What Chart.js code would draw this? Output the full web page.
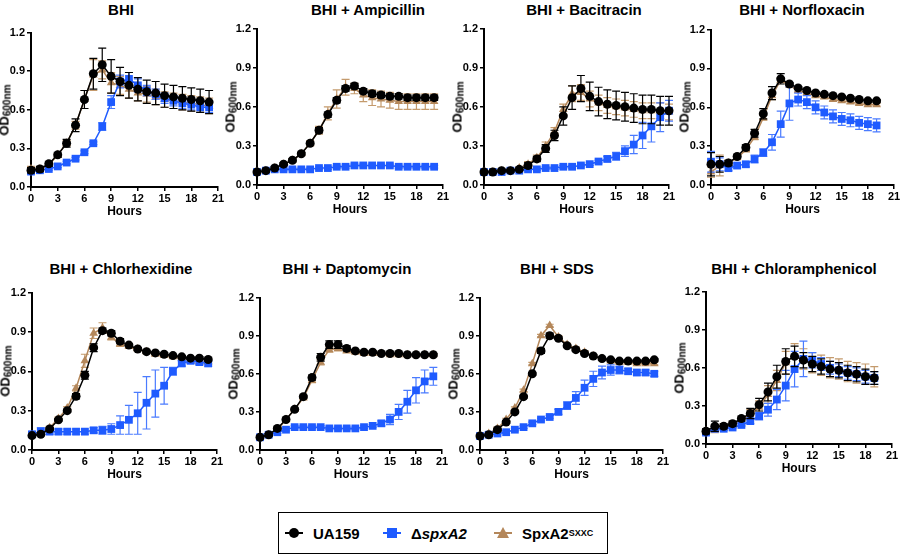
<!DOCTYPE html>
<html>
<head>
<meta charset="utf-8">
<script src="https://cdn.jsdelivr.net/npm/chart.js@4.4.0/dist/chart.umd.min.js"></script>
<style>
    body { margin: 0; background: #fff; width: 900px; height: 554px; position: relative; overflow: hidden; font-family: "Liberation Sans", Arial, sans-serif; }
    canvas { position: absolute; }
    .ttl { position: absolute; font-weight: bold; font-size: 15px; transform: translate(-50%, -50%); white-space: nowrap; }
    .ylab { position: absolute; font-weight: bold; font-size: 13px; line-height: 13px; transform: translate(-50%, -50%) rotate(-90deg); white-space: nowrap; }
    .ylab sub { font-size: 10px; line-height: 10px; vertical-align: -2px; }
    #legend { position: absolute; left: 278px; top: 512px; width: 330px; height: 42px; border: 1px solid #000; box-sizing: border-box; font-weight: bold; font-size: 15px; }
    .item { position: absolute; top: 0; height: 40px; display: flex; align-items: center; }
    .mk { position: relative; width: 18px; height: 12px; margin-right: 10px; }
    .mk .ln { position: absolute; left: 0; right: 0; top: 5px; height: 2px; }
    .mk .dot { position: absolute; left: 4px; top: 1px; width: 10px; height: 10px; border-radius: 50%; }
    .mk .sq { position: absolute; left: 4px; top: 1px; width: 10px; height: 10px; }
    .mk .tri { position: absolute; left: 3px; top: 0; width: 0; height: 0; border-left: 6px solid transparent; border-right: 6px solid transparent; border-bottom: 11px solid; }
    .item sup { font-size: 9px; }
</style>
</head>
<body>
<div id="legend">
    <div class="item" style="left:6px"><div class="mk"><div class="ln" style="background:#000"></div><div class="dot" style="background:#000"></div></div>UA159</div>
    <div class="item" style="left:104px"><div class="mk"><div class="ln" style="background:#1f5bff"></div><div class="sq" style="background:#1f5bff"></div></div>&Delta;<i>spxA2</i></div>
    <div class="item" style="left:215px"><div class="mk"><div class="ln" style="background:#b4875a"></div><div class="tri" style="border-bottom-color:#b4875a"></div></div>SpxA2<sup>SXXC</sup></div>
</div>
<script>
// sampling times (h)
const hours19 = [0, 1, 2, 3, 4, 5, 6, 7, 8, 9, 10, 11, 12, 13, 14, 15, 16, 17, 18, 19];
const hours20 = [0, 1, 2, 3, 4, 5, 6, 7, 8, 9, 10, 11, 12, 13, 14, 15, 16, 17, 18, 19, 20];
const hours21 = [0, 1, 2, 3, 4, 5, 6, 7, 8, 9, 10, 11, 12, 13, 14, 15, 16, 17, 18, 19, 20, 21];
const xTicks = [0, 3, 6, 9, 12, 15, 18, 21];
const yTicks = [0.0, 0.3, 0.6, 0.9, 1.2];
const strains = ['UA159', 'ΔspxA2', 'SpxA2SXXC'];

// BHI
const bhiUA = [0.13, 0.14, 0.18, 0.25, 0.34, 0.48, 0.68, 0.88, 0.95, 0.86, 0.82, 0.79, 0.76, 0.74, 0.73, 0.71, 0.70, 0.69, 0.68, 0.67, 0.66];
const bhiUAErr = [0.02, 0.02, 0.02, 0.02, 0.03, 0.05, 0.07, 0.12, 0.13, 0.13, 0.11, 0.10, 0.09, 0.09, 0.09, 0.09, 0.09, 0.09, 0.09, 0.09, 0.09];
const bhiSpx = [0.12, 0.13, 0.14, 0.16, 0.19, 0.22, 0.27, 0.34, 0.47, 0.66, 0.82, 0.84, 0.79, 0.75, 0.72, 0.69, 0.67, 0.65, 0.64, 0.62, 0.62];
const bhiSpxErr = [0.01, 0.01, 0.01, 0.01, 0.01, 0.01, 0.01, 0.01, 0.03, 0.05, 0.05, 0.05, 0.05, 0.04, 0.04, 0.04, 0.04, 0.04, 0.04, 0.04, 0.04];
const bhiSx = [0.14, 0.14, 0.17, 0.25, 0.34, 0.48, 0.68, 0.87, 0.91, 0.81, 0.79, 0.76, 0.73, 0.72, 0.70, 0.68, 0.67, 0.66, 0.65, 0.64, 0.63];
const bhiSxErr = [0.02, 0.01, 0.01, 0.01, 0.02, 0.03, 0.07, 0.12, 0.07, 0.08, 0.07, 0.07, 0.06, 0.06, 0.06, 0.06, 0.06, 0.06, 0.06, 0.06, 0.06];

// BHI + Ampicillin
const ampUA = [0.10, 0.11, 0.13, 0.16, 0.19, 0.24, 0.32, 0.42, 0.54, 0.65, 0.74, 0.76, 0.72, 0.70, 0.69, 0.68, 0.68, 0.67, 0.67, 0.67, 0.67];
const ampUAErr = [0.01, 0.01, 0.01, 0.01, 0.01, 0.01, 0.01, 0.02, 0.02, 0.02, 0.02, 0.02, 0.02, 0.02, 0.02, 0.02, 0.02, 0.02, 0.02, 0.02, 0.02];
const ampSpx = [0.10, 0.11, 0.12, 0.12, 0.12, 0.12, 0.12, 0.13, 0.13, 0.14, 0.14, 0.15, 0.15, 0.15, 0.15, 0.15, 0.14, 0.14, 0.14, 0.14, 0.14];
const ampSpxErr = [0.01, 0.01, 0.01, 0.01, 0.01, 0.01, 0.01, 0.01, 0.01, 0.01, 0.01, 0.01, 0.01, 0.01, 0.01, 0.01, 0.01, 0.01, 0.01, 0.01, 0.01];
const ampSx = [0.10, 0.11, 0.13, 0.16, 0.19, 0.24, 0.32, 0.42, 0.55, 0.66, 0.75, 0.74, 0.69, 0.67, 0.66, 0.65, 0.64, 0.64, 0.64, 0.64, 0.64];
const ampSxErr = [0.01, 0.01, 0.01, 0.01, 0.01, 0.01, 0.02, 0.03, 0.05, 0.07, 0.06, 0.04, 0.05, 0.06, 0.06, 0.06, 0.06, 0.06, 0.06, 0.06, 0.06];

// BHI + Bacitracin
const bacUA = [0.10, 0.10, 0.11, 0.11, 0.12, 0.15, 0.20, 0.28, 0.38, 0.53, 0.67, 0.74, 0.68, 0.64, 0.62, 0.61, 0.60, 0.59, 0.58, 0.58, 0.57, 0.57];
const bacUAErr = [0.01, 0.01, 0.01, 0.01, 0.01, 0.02, 0.02, 0.03, 0.04, 0.07, 0.09, 0.10, 0.11, 0.11, 0.11, 0.11, 0.11, 0.11, 0.11, 0.11, 0.11, 0.11];
const bacSpx = [0.10, 0.10, 0.10, 0.11, 0.11, 0.12, 0.12, 0.13, 0.13, 0.14, 0.14, 0.15, 0.16, 0.18, 0.20, 0.22, 0.26, 0.31, 0.38, 0.45, 0.52, 0.57];
const bacSpxErr = [0.01, 0.01, 0.01, 0.01, 0.01, 0.01, 0.01, 0.01, 0.01, 0.01, 0.01, 0.01, 0.01, 0.01, 0.02, 0.03, 0.04, 0.07, 0.10, 0.12, 0.11, 0.08];
const bacSx = [0.10, 0.10, 0.11, 0.11, 0.13, 0.16, 0.21, 0.30, 0.41, 0.58, 0.70, 0.71, 0.66, 0.63, 0.61, 0.60, 0.59, 0.58, 0.57, 0.57, 0.57, 0.56];
const bacSxErr = [0.01, 0.01, 0.01, 0.01, 0.01, 0.02, 0.02, 0.03, 0.03, 0.04, 0.06, 0.06, 0.06, 0.06, 0.06, 0.06, 0.06, 0.06, 0.06, 0.06, 0.06, 0.06];

// BHI + Norfloxacin
const norUA = [0.16, 0.16, 0.17, 0.22, 0.29, 0.40, 0.55, 0.71, 0.82, 0.78, 0.75, 0.73, 0.71, 0.70, 0.69, 0.68, 0.67, 0.66, 0.65, 0.65];
const norUAErr = [0.09, 0.06, 0.02, 0.01, 0.02, 0.03, 0.04, 0.05, 0.04, 0.01, 0.01, 0.01, 0.01, 0.01, 0.01, 0.01, 0.01, 0.01, 0.01, 0.01];
const norSpx = [0.18, 0.16, 0.13, 0.15, 0.16, 0.20, 0.25, 0.33, 0.47, 0.63, 0.66, 0.64, 0.60, 0.56, 0.53, 0.51, 0.50, 0.48, 0.47, 0.46];
const norSpxErr = [0.08, 0.05, 0.02, 0.02, 0.02, 0.03, 0.03, 0.06, 0.10, 0.13, 0.05, 0.05, 0.05, 0.05, 0.05, 0.05, 0.05, 0.05, 0.05, 0.05];
const norSx = [0.10, 0.15, 0.17, 0.21, 0.27, 0.37, 0.52, 0.69, 0.81, 0.77, 0.73, 0.71, 0.69, 0.68, 0.66, 0.65, 0.64, 0.63, 0.62, 0.62];
const norSxErr = [0.04, 0.08, 0.02, 0.01, 0.01, 0.02, 0.02, 0.03, 0.02, 0.01, 0.01, 0.01, 0.01, 0.01, 0.01, 0.01, 0.01, 0.01, 0.01, 0.01];

// BHI + Chlorhexidine
const chxUA = [0.11, 0.12, 0.16, 0.23, 0.30, 0.41, 0.57, 0.78, 0.91, 0.89, 0.83, 0.80, 0.77, 0.75, 0.74, 0.73, 0.72, 0.71, 0.70, 0.70, 0.69];
const chxUAErr = [0.01, 0.01, 0.01, 0.01, 0.01, 0.02, 0.03, 0.03, 0.02, 0.02, 0.02, 0.01, 0.01, 0.01, 0.01, 0.01, 0.01, 0.01, 0.01, 0.01, 0.01];
const chxSpx = [0.12, 0.14, 0.14, 0.14, 0.14, 0.14, 0.14, 0.15, 0.15, 0.16, 0.19, 0.23, 0.28, 0.36, 0.43, 0.49, 0.60, 0.66, 0.68, 0.67, 0.66];
const chxSpxErr = [0.02, 0.03, 0.02, 0.02, 0.02, 0.02, 0.02, 0.02, 0.03, 0.04, 0.07, 0.11, 0.16, 0.20, 0.18, 0.14, 0.03, 0.02, 0.02, 0.02, 0.02];
const chxSx = [0.11, 0.13, 0.17, 0.24, 0.32, 0.47, 0.68, 0.89, 0.93, 0.86, 0.81, 0.79, 0.77, 0.75, 0.73, 0.72, 0.71, 0.70, 0.68, 0.67, 0.67];
const chxSxErr = [0.01, 0.01, 0.01, 0.01, 0.01, 0.02, 0.05, 0.04, 0.04, 0.02, 0.02, 0.01, 0.01, 0.01, 0.01, 0.01, 0.01, 0.01, 0.01, 0.01, 0.01];

// BHI + Daptomycin
const dapUA = [0.10, 0.12, 0.17, 0.24, 0.32, 0.42, 0.57, 0.73, 0.83, 0.83, 0.80, 0.78, 0.77, 0.77, 0.76, 0.76, 0.76, 0.75, 0.75, 0.75, 0.75];
const dapUAErr = [0.01, 0.01, 0.01, 0.01, 0.01, 0.01, 0.02, 0.03, 0.03, 0.03, 0.02, 0.01, 0.01, 0.01, 0.01, 0.01, 0.01, 0.01, 0.01, 0.01, 0.01];
const dapSpx = [0.10, 0.12, 0.14, 0.16, 0.18, 0.18, 0.18, 0.18, 0.17, 0.17, 0.17, 0.17, 0.18, 0.19, 0.21, 0.24, 0.30, 0.38, 0.47, 0.54, 0.58];
const dapSpxErr = [0.01, 0.01, 0.01, 0.01, 0.01, 0.01, 0.01, 0.01, 0.01, 0.01, 0.01, 0.01, 0.01, 0.01, 0.02, 0.04, 0.06, 0.09, 0.10, 0.09, 0.07];
const dapSx = [0.10, 0.12, 0.16, 0.24, 0.32, 0.41, 0.55, 0.69, 0.79, 0.80, 0.78, 0.77, 0.76, 0.76, 0.76, 0.75, 0.75, 0.75, 0.75, 0.75, 0.75];
const dapSxErr = [0.01, 0.01, 0.01, 0.01, 0.01, 0.01, 0.02, 0.02, 0.02, 0.02, 0.01, 0.01, 0.01, 0.01, 0.01, 0.01, 0.01, 0.01, 0.01, 0.01, 0.01];

// BHI + SDS
const sdsUA = [0.11, 0.12, 0.16, 0.22, 0.30, 0.42, 0.60, 0.78, 0.90, 0.88, 0.82, 0.79, 0.76, 0.74, 0.72, 0.71, 0.70, 0.70, 0.70, 0.70, 0.71];
const sdsUAErr = [0.01, 0.01, 0.01, 0.01, 0.01, 0.01, 0.01, 0.02, 0.02, 0.01, 0.01, 0.01, 0.01, 0.01, 0.01, 0.01, 0.01, 0.01, 0.01, 0.01, 0.01];
const sdsSpx = [0.11, 0.12, 0.13, 0.14, 0.16, 0.18, 0.21, 0.24, 0.26, 0.30, 0.35, 0.41, 0.49, 0.56, 0.61, 0.63, 0.63, 0.62, 0.61, 0.61, 0.60];
const sdsSpxErr = [0.01, 0.01, 0.01, 0.01, 0.01, 0.01, 0.01, 0.01, 0.01, 0.02, 0.03, 0.05, 0.06, 0.06, 0.05, 0.04, 0.03, 0.02, 0.02, 0.02, 0.02];
const sdsSx = [0.11, 0.13, 0.17, 0.24, 0.33, 0.47, 0.68, 0.90, 0.98, 0.89, 0.83, 0.80, 0.77, 0.74, 0.72, 0.70, 0.69, 0.69, 0.68, 0.68, 0.68];
const sdsSxErr = [0.01, 0.01, 0.01, 0.01, 0.01, 0.01, 0.01, 0.01, 0.01, 0.01, 0.01, 0.01, 0.01, 0.01, 0.01, 0.01, 0.01, 0.01, 0.01, 0.01, 0.01];

// BHI + Chloramphenicol
const chlUA = [0.10, 0.14, 0.14, 0.16, 0.20, 0.24, 0.31, 0.41, 0.53, 0.65, 0.69, 0.66, 0.63, 0.61, 0.59, 0.58, 0.56, 0.55, 0.53, 0.52];
const chlUAErr = [0.02, 0.04, 0.02, 0.02, 0.02, 0.04, 0.05, 0.07, 0.09, 0.10, 0.08, 0.06, 0.06, 0.06, 0.06, 0.06, 0.06, 0.06, 0.06, 0.05];
const chlSpx = [0.09, 0.12, 0.12, 0.13, 0.15, 0.18, 0.22, 0.27, 0.35, 0.46, 0.59, 0.67, 0.66, 0.63, 0.60, 0.58, 0.56, 0.55, 0.53, 0.52];
const chlSpxErr = [0.01, 0.01, 0.01, 0.01, 0.01, 0.02, 0.03, 0.05, 0.08, 0.12, 0.14, 0.14, 0.06, 0.05, 0.05, 0.05, 0.05, 0.05, 0.05, 0.05];
const chlSx = [0.10, 0.12, 0.13, 0.15, 0.18, 0.23, 0.29, 0.39, 0.50, 0.64, 0.70, 0.67, 0.64, 0.62, 0.60, 0.59, 0.57, 0.56, 0.55, 0.53];
const chlSxErr = [0.02, 0.03, 0.02, 0.02, 0.03, 0.04, 0.05, 0.07, 0.08, 0.09, 0.09, 0.08, 0.08, 0.08, 0.08, 0.08, 0.08, 0.08, 0.08, 0.08];

// panel titles + plot-area placement (left, right, top, bottom) + title centre
const panels = [
    { title: 'BHI', hours: hours20, ua: [bhiUA, bhiUAErr], spx: [bhiSpx, bhiSpxErr], sx: [bhiSx, bhiSxErr], box: [31, 218, 32, 187], tc: [121, 9] },
    { title: 'BHI + Ampicillin', hours: hours20, ua: [ampUA, ampUAErr], spx: [ampSpx, ampSpxErr], sx: [ampSx, ampSxErr], box: [257, 443, 28, 185], tc: [368, 9] },
    { title: 'BHI + Bacitracin', hours: hours21, ua: [bacUA, bacUAErr], spx: [bacSpx, bacSpxErr], sx: [bacSx, bacSxErr], box: [484, 669, 28, 185], tc: [584, 9] },
    { title: 'BHI + Norfloxacin', hours: hours19, ua: [norUA, norUAErr], spx: [norSpx, norSpxErr], sx: [norSx, norSxErr], box: [711, 894, 29, 185], tc: [802, 9] },
    { title: 'BHI + Chlorhexidine', hours: hours20, ua: [chxUA, chxUAErr], spx: [chxSpx, chxSpxErr], sx: [chxSx, chxSxErr], box: [32, 217, 292, 450], tc: [121, 268] },
    { title: 'BHI + Daptomycin', hours: hours20, ua: [dapUA, dapUAErr], spx: [dapSpx, dapSpxErr], sx: [dapSx, dapSxErr], box: [260, 442, 297, 450], tc: [347, 268] },
    { title: 'BHI + SDS', hours: hours20, ua: [sdsUA, sdsUAErr], spx: [sdsSpx, sdsSpxErr], sx: [sdsSx, sdsSxErr], box: [480, 663, 297, 450], tc: [557, 268] },
    { title: 'BHI + Chloramphenicol', hours: hours19, ua: [chlUA, chlUAErr], spx: [chlSpx, chlSpxErr], sx: [chlSx, chlSxErr], box: [706, 892, 291, 444], tc: [794, 268] }
];

const BLACK = '#000000';
const BLUE = '#1f5bff';
const TAN = '#b4875a';
const tickFont = { family: '"Liberation Sans Narrow", "Liberation Sans", Arial, sans-serif', size: 11, weight: 'bold' };

// draws vertical SD bars for a dataset right before its line/markers
const errorBars = {
    id: 'errorBars',
    beforeDatasetDraw(chart, args) {
        const ds = chart.data.datasets[args.index];
        if (!ds.errors) return;
        const ctx = chart.ctx;
        const xs = chart.scales.x, ys = chart.scales.y;
        ctx.save();
        ctx.strokeStyle = ds.errorColor;
        ctx.lineWidth = 1.2;
        ds.data.forEach((p, i) => {
            const e = ds.errors[i];
            const px = xs.getPixelForValue(p.x);
            const top = ys.getPixelForValue(p.y + e);
            const bot = ys.getPixelForValue(p.y - e);
            ctx.beginPath();
            ctx.moveTo(px, top); ctx.lineTo(px, bot);
            ctx.moveTo(px - 4, top); ctx.lineTo(px + 4, top);
            ctx.moveTo(px - 4, bot); ctx.lineTo(px + 4, bot);
            ctx.stroke();
        });
        ctx.restore();
    }
};

function makeSet(label, hours, pair, color, errColor, style, radius) {
    return {
        label: label,
        data: hours.map((h, i) => ({ x: h, y: pair[0][i] })),
        errors: pair[1],
        errorColor: errColor,
        borderColor: color,
        backgroundColor: color,
        borderWidth: 1.5,
        pointStyle: style,
        pointRadius: radius,
        pointBorderWidth: 0,
        tension: 0,
        clip: false
    };
}

function addText(cls, html, x, y) {
    const d = document.createElement('div');
    d.className = cls;
    d.innerHTML = html;
    d.style.left = x + 'px';
    d.style.top = y + 'px';
    document.body.appendChild(d);
}

panels.forEach(p => {
    const [l, r, t, b] = p.box;
    const padTop = 8, yW = 30, xH = 34, padR = 8;
    const canvas = document.createElement('canvas');
    canvas.width = r - l + yW + padR;
    canvas.height = b - t + padTop + xH;
    canvas.style.left = (l - yW) + 'px';
    canvas.style.top = (t - padTop) + 'px';
    document.body.appendChild(canvas);

    addText('ttl', p.title, p.tc[0], p.tc[1]);
    addText('ylab', 'OD<sub>600nm</sub>', l - 26, (t + b) / 2);

    new Chart(canvas.getContext('2d'), {
        type: 'line',
        data: {
            datasets: [
                makeSet(strains[0], p.hours, p.ua, BLACK, BLACK, 'circle', 4.5),
                makeSet(strains[1], p.hours, p.spx, BLUE, '#4a7bff', 'rect', 5.5),
                makeSet(strains[2], p.hours, p.sx, TAN, '#c49a6c', 'triangle', 5)
            ]
        },
        options: {
            responsive: false,
            animation: false,
            layout: { padding: { left: 0, right: padR, top: padTop, bottom: 0 } },
            plugins: { legend: { display: false }, tooltip: { enabled: false } },
            scales: {
                x: {
                    type: 'linear',
                    min: xTicks[0],
                    max: xTicks[xTicks.length - 1],
                    afterBuildTicks: s => { s.ticks = xTicks.map(v => ({ value: v })); },
                    ticks: { font: tickFont, color: '#000', padding: 1, maxRotation: 0 },
                    grid: { drawOnChartArea: false, color: '#000', tickLength: 4, lineWidth: 1.5 },
                    border: { color: '#000', width: 2 },
                    title: { display: true, text: 'Hours', color: '#000', font: { family: tickFont.family, size: 12, weight: 'bold' }, padding: { top: 0, bottom: 2 } },
                    afterFit: s => { s.height = xH; }
                },
                y: {
                    min: yTicks[0],
                    max: yTicks[yTicks.length - 1],
                    afterBuildTicks: s => { s.ticks = yTicks.map(v => ({ value: v })); },
                    ticks: { font: tickFont, color: '#000', padding: 2, callback: v => v.toFixed(1) },
                    grid: { drawOnChartArea: false, color: '#000', tickLength: 4, lineWidth: 1.5 },
                    border: { color: '#000', width: 2 },
                    afterFit: s => { s.width = yW; }
                }
            }
        },
        plugins: [errorBars]
    });
});
</script>
</body>
</html>
